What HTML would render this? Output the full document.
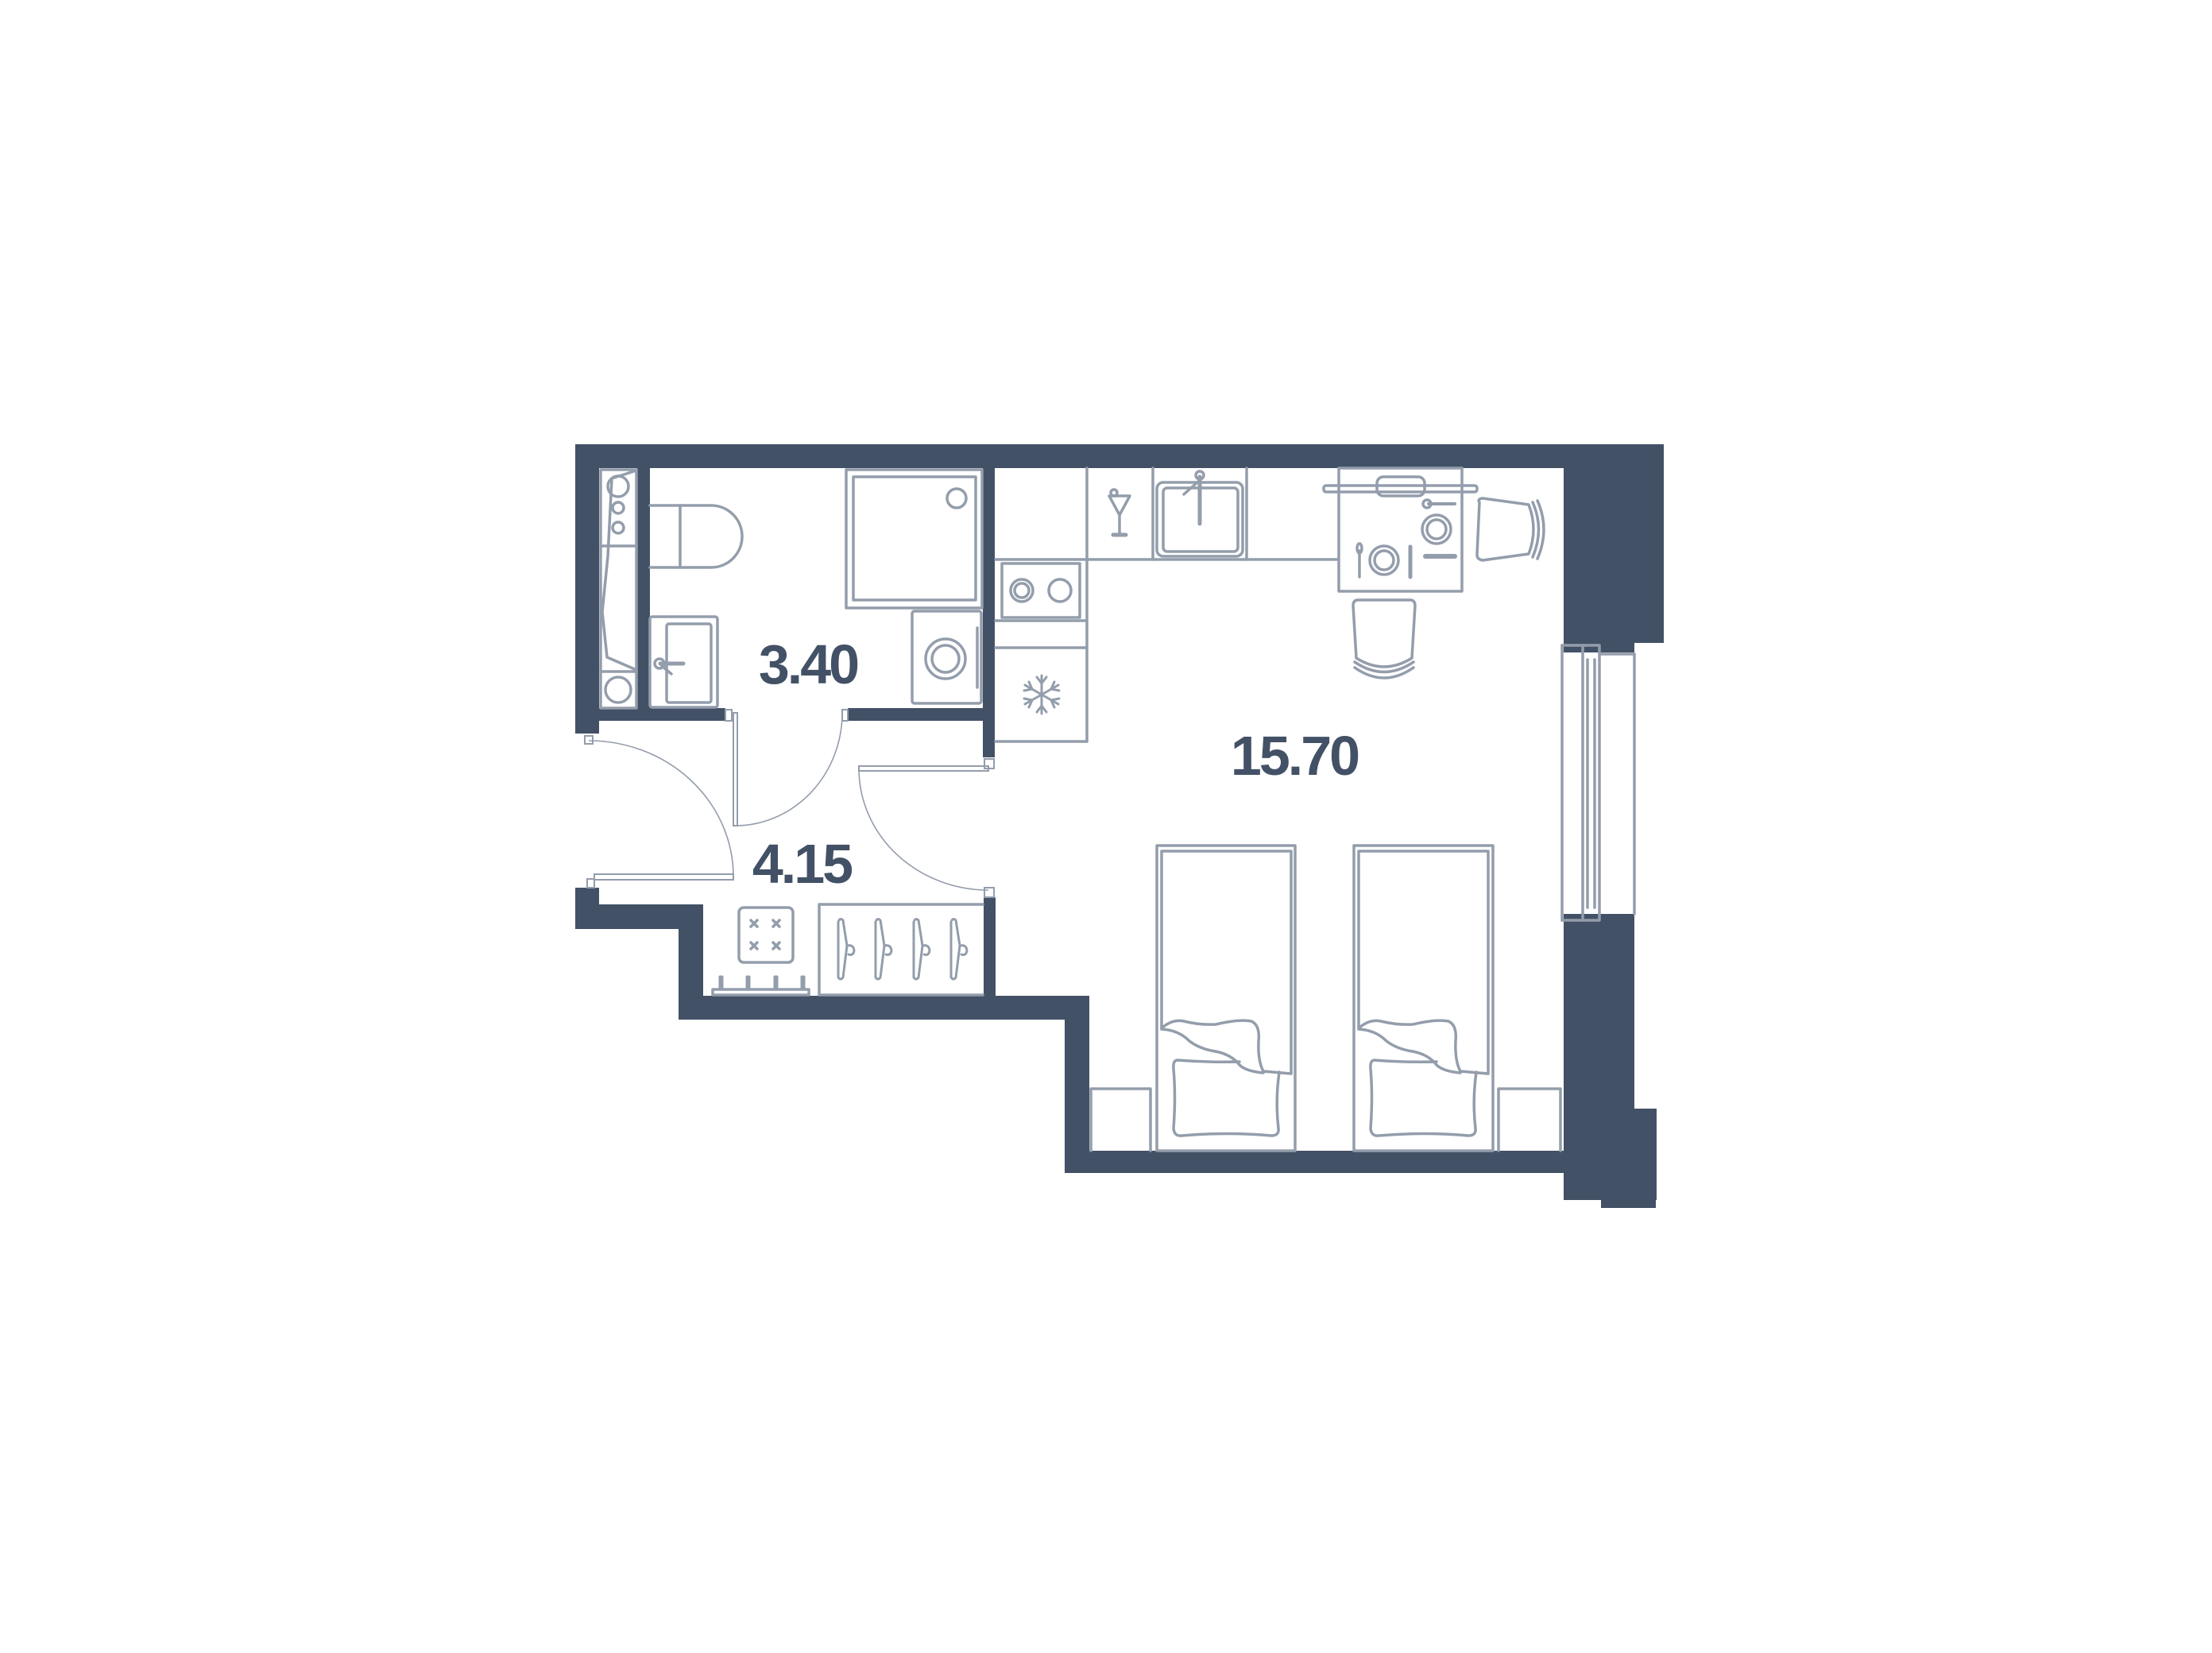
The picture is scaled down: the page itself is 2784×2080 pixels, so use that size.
<!DOCTYPE html>
<html><head><meta charset="utf-8"><style>
html,body{margin:0;padding:0;background:#fff;}
svg{display:block;}
text{font-family:"Liberation Sans",sans-serif;font-weight:bold;fill:#435166;}
</style></head><body>
<svg width="2784" height="2080" viewBox="0 0 2784 2080" xmlns="http://www.w3.org/2000/svg">
<rect width="2784" height="2080" fill="#fff"/>
<g fill="#435166">
  <!-- top wall -->
  <rect x="724" y="559" width="1370" height="30"/>
  <!-- right upper wall -->
  <rect x="1968" y="559" width="126" height="250"/>
  <rect x="1968" y="809" width="89" height="12"/>
  <!-- right lower wall -->
  <rect x="1968" y="1150" width="89" height="360"/>
  <rect x="2054" y="1395" width="31" height="115"/>
  <rect x="2015" y="1505" width="69" height="15"/>
  <!-- bottom wall -->
  <rect x="1340" y="1448" width="645" height="28"/>
  <rect x="1340" y="1253" width="31" height="223"/>
  <rect x="854" y="1253" width="517" height="30"/>
  <rect x="854" y="1138" width="31" height="145"/>
  <rect x="724" y="1138" width="161" height="31"/>
  <rect x="724" y="1117" width="30" height="52"/>
  <!-- left wall -->
  <rect x="724" y="559" width="30" height="364"/>
  <!-- tub/toilet wall -->
  <rect x="802" y="589" width="16" height="310"/>
  <!-- bath bottom walls -->
  <rect x="724" y="891" width="189" height="16"/>
  <rect x="1067" y="891" width="185" height="16"/>
  <!-- bath/kitchen wall -->
  <rect x="1237" y="589" width="15" height="364"/>
  <!-- hall right wall -->
  <rect x="1238" y="1129" width="15" height="124"/>
</g>
<g fill="none" stroke="#939dab" stroke-width="3.5" stroke-linejoin="round" stroke-linecap="round">
  <!-- bathtub -->
  <rect x="756" y="591" width="45" height="300"/>
  <line x1="756" y1="687" x2="801" y2="687"/>
  <line x1="756" y1="845" x2="801" y2="845"/>
  <circle cx="778" cy="612" r="13"/>
  <circle cx="778" cy="639" r="7"/>
  <circle cx="778" cy="664" r="7"/>
  <circle cx="778" cy="868" r="16"/>
  <polyline points="801,592 770,602 765,700 758,770 764,827 801,843"/>
  <!-- toilet -->
  <path d="M818,636 H895 A39,39 0 0 1 895,714 H818"/>
  <line x1="856" y1="636" x2="856" y2="714"/>
  <!-- sink -->
  <rect x="818" y="776" width="85" height="114" rx="3"/>
  <rect x="839" y="785" width="56" height="99" rx="3"/>
  <line x1="831" y1="835" x2="860" y2="835" stroke-width="5"/>
  <circle cx="830" cy="835" r="6"/>
  <line x1="833" y1="838" x2="845" y2="848"/>
  <!-- shower -->
  <rect x="1065" y="591" width="171" height="174"/>
  <rect x="1074" y="600" width="154" height="155"/>
  <circle cx="1204" cy="627" r="12"/>
  <!-- washer -->
  <rect x="1148" y="769" width="87" height="116" rx="3"/>
  <circle cx="1190" cy="829" r="25"/>
  <circle cx="1190" cy="829" r="17"/>
  <line x1="1230" y1="790" x2="1230" y2="865"/>
  <!-- kitchen column -->
  <line x1="1253" y1="704" x2="1368" y2="704"/>
  <line x1="1368" y1="589" x2="1368" y2="933"/>
  <rect x="1261" y="709" width="98" height="68"/>
  <circle cx="1286" cy="743" r="14"/>
  <circle cx="1286" cy="743" r="9"/>
  <circle cx="1334" cy="743" r="14"/>
  <line x1="1253" y1="781" x2="1368" y2="781"/>
  <line x1="1253" y1="815" x2="1368" y2="815"/>
  <line x1="1253" y1="933" x2="1368" y2="933"/>
  <!-- snowflake -->
  <g transform="translate(1311,874)" stroke-width="3">
    <line x1="0" y1="-24" x2="0" y2="24"/>
    <line x1="-21" y1="-12" x2="21" y2="12"/>
    <line x1="-21" y1="12" x2="21" y2="-12"/>
    <polyline points="-6,-22 0,-14 6,-22"/>
    <polyline points="-6,22 0,14 6,22"/>
    <polyline points="-22,-5 -12,-7 -16,-16"/>
    <polyline points="22,5 12,7 16,16"/>
    <polyline points="-22,5 -12,7 -16,16"/>
    <polyline points="22,-5 12,-7 16,-16"/>
  </g>
  <!-- counter -->
  <line x1="1368" y1="704" x2="1685" y2="704"/>
  <line x1="1451" y1="589" x2="1451" y2="704"/>
  <line x1="1569" y1="589" x2="1569" y2="704"/>
  <!-- glass -->
  <path d="M1396,624 L1422,624 L1409,648 Z"/>
  <line x1="1409" y1="648" x2="1409" y2="672"/>
  <line x1="1401" y1="673" x2="1417" y2="673" stroke-width="5"/>
  <circle cx="1402" cy="620" r="4"/>
  <!-- kitchen sink -->
  <rect x="1456" y="607" width="108" height="93" rx="8"/>
  <rect x="1464" y="614" width="94" height="80" rx="5"/>
  <line x1="1510" y1="600" x2="1510" y2="659" stroke-width="5"/>
  <circle cx="1510" cy="598" r="5"/>
  <line x1="1508" y1="606" x2="1490" y2="622"/>
  <!-- table -->
  <rect x="1685" y="589" width="155" height="155"/>
  <rect x="1666" y="611" width="193" height="8" rx="3"/>
  <rect x="1733" y="600" width="60" height="24" rx="8"/>
  <circle cx="1742" cy="705" r="18"/>
  <circle cx="1742" cy="705" r="12"/>
  <circle cx="1808" cy="666" r="18"/>
  <circle cx="1808" cy="666" r="12"/>
  <line x1="1711" y1="693" x2="1711" y2="726"/>
  <ellipse cx="1711" cy="690" rx="3" ry="6"/>
  <line x1="1775" y1="688" x2="1775" y2="726" stroke-width="5"/>
  <line x1="1798" y1="634" x2="1831" y2="634" stroke-width="4"/>
  <circle cx="1796" cy="634" r="5"/>
  <line x1="1794" y1="700" x2="1831" y2="700" stroke-width="6"/>
  <!-- right chair -->
  <path d="M1862,632 Q1859,628 1866,627 L1924,635 Q1936,666 1924,697 L1866,705 Q1859,704 1859,698 Z"/>
  <path d="M1929,632 Q1944,666 1929,701"/>
  <path d="M1935,630 Q1951,666 1935,703"/>
  <!-- bottom chair -->
  <path d="M1708,755 H1776 Q1781,756 1781,762 L1777,828 Q1742,850 1707,828 L1703,762 Q1703,756 1708,755 Z"/>
  <path d="M1705,833 Q1742,858 1779,833"/>
  <path d="M1705,840 Q1742,866 1779,840"/>
  <!-- window -->
  <line x1="1966" y1="812" x2="1966" y2="1158"/>
  <line x1="1966" y1="812" x2="1992" y2="812"/>
  <line x1="1966" y1="1158" x2="1992" y2="1158"/>
  <rect x="1992" y="812" width="21" height="346"/>
  <line x1="1998" y1="830" x2="1998" y2="1142"/>
  <line x1="2007" y1="830" x2="2007" y2="1142"/>
  <line x1="2013" y1="823" x2="2057" y2="823"/>
  <line x1="2057" y1="823" x2="2057" y2="1150"/>
  <!-- beds -->
  <rect x="1456" y="1064" width="174" height="384"/>
  <path d="M1625,1351 V1071 H1462 V1294"/>
  <rect x="1704" y="1064" width="175" height="384"/>
  <path d="M1873,1351 V1071 H1710 V1294"/>
  <g id="bedding">
    <path d="M1462,1294 Q1475,1282 1490,1285 Q1510,1290 1530,1289 Q1560,1282 1575,1285 Q1586,1290 1584,1310 Q1583,1335 1590,1348 L1625,1351"/>
    <path d="M1462,1295 Q1483,1296 1497,1310 Q1510,1320 1530,1323 Q1550,1327 1560,1340 Q1568,1348 1590,1350"/>
    <path d="M1482,1334 Q1476,1334 1477,1345 Q1480,1380 1477,1420 Q1478,1430 1487,1429 Q1545,1424 1600,1429 Q1610,1429 1609,1420 Q1605,1385 1610,1349"/>
    <path d="M1482,1334 Q1520,1337 1560,1336"/>
  </g>
  <use href="#bedding" transform="translate(248,0)"/>
  <!-- nightstands -->
  <path d="M1373,1448 V1370 H1448 V1448"/>
  <path d="M1886,1448 V1370 H1964 V1448"/>
  <!-- hall: ottoman -->
  <rect x="930" y="1142" width="68" height="69" rx="6"/>
  <!-- shoe shelf -->
  <rect x="897" y="1245" width="121" height="7"/>
  <path d="M906,1245 V1229 H909 V1245 M940,1245 V1229 H943 V1245 M975,1245 V1229 H978 V1245 M1009,1245 V1229 H1012 V1245" stroke-width="3"/>
  <!-- wardrobe -->
  <path d="M1031,1252 V1138 H1237"/>
  <line x1="1031" y1="1252" x2="1237" y2="1252"/>
  <g id="hanger"><path d="M1056,1158 Q1058,1155 1061,1158 L1066,1190 Q1074,1188 1075,1196 Q1074,1203 1068,1201 M1066,1190 L1061,1230 Q1058,1234 1055,1230 L1055,1160" stroke-width="3"/></g>
  <use href="#hanger" transform="translate(47,0)"/>
  <use href="#hanger" transform="translate(95,0)"/>
  <use href="#hanger" transform="translate(142,0)"/>
</g>
<!-- ottoman crosses -->
<g stroke="#939dab" stroke-width="3.5" stroke-linecap="round">
  <path d="M945,1158 l8,8 M953,1158 l-8,8 M973,1158 l8,8 M981,1158 l-8,8 M945,1186 l8,8 M953,1186 l-8,8 M973,1186 l8,8 M981,1186 l-8,8"/>
</g>
<!-- doors -->
<g fill="none" stroke="#939dab">
  <rect x="923" y="897" width="5" height="142" stroke-width="2"/>
  <path d="M925,1039 A135,142 0 0 0 1060,898" stroke-width="1.6"/>
  <rect x="1081" y="964" width="163" height="6" stroke-width="2"/>
  <path d="M1081,968 A163,153 0 0 0 1244,1120" stroke-width="1.6"/>
  <rect x="748" y="1100" width="175" height="7" stroke-width="2"/>
  <path d="M741,932 A182,171 0 0 1 923,1102" stroke-width="1.6"/>
  <rect x="736" y="926" width="10" height="10" stroke-width="2"/>
  <rect x="739" y="1106" width="9" height="11" stroke-width="2"/>
  <rect x="913" y="893" width="8" height="14" stroke-width="2"/>
  <rect x="1060" y="893" width="7" height="14" stroke-width="2"/>
  <rect x="1239" y="955" width="12" height="12" stroke-width="2"/>
  <rect x="1239" y="1117" width="12" height="12" stroke-width="2"/>
</g>
<text x="1017" y="860" font-size="70" text-anchor="middle" letter-spacing="-3">3.40</text>
<text x="1009" y="1111" font-size="70" text-anchor="middle" letter-spacing="-3">4.15</text>
<text x="1629" y="975" font-size="70" text-anchor="middle" letter-spacing="-3">15.70</text>
</svg>
</body></html>
